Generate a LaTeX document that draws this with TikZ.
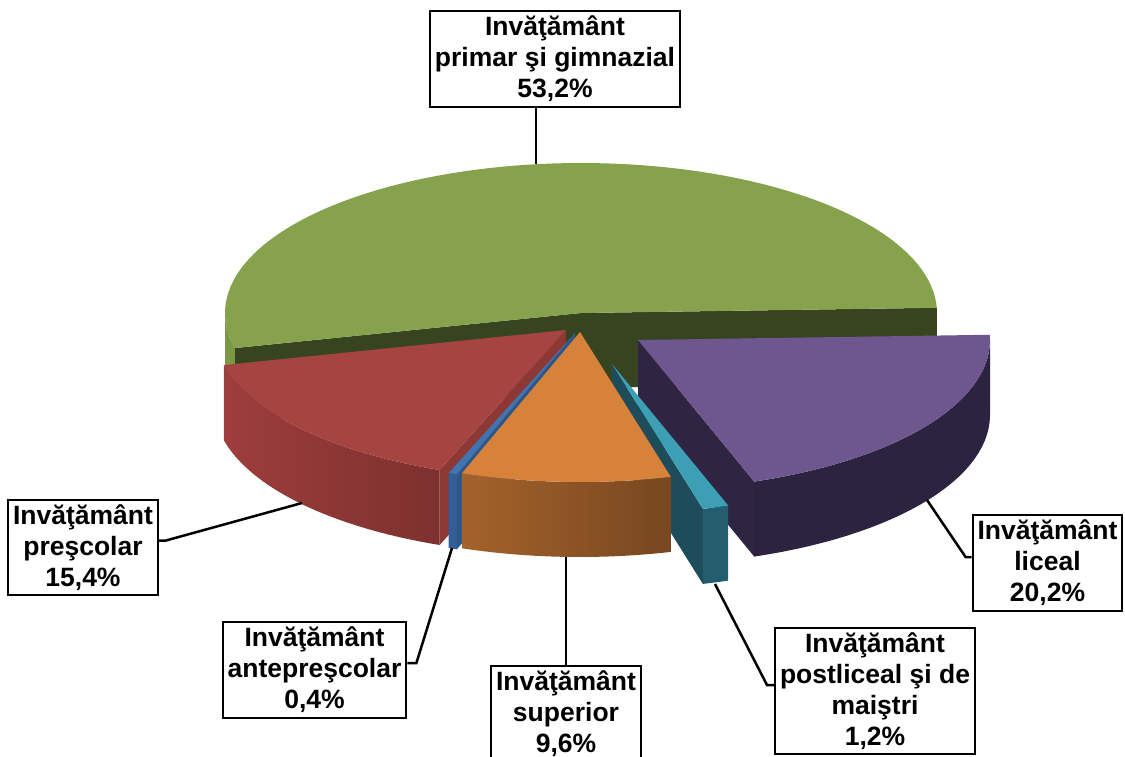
\documentclass[tikz,border=0pt]{standalone}
\usepackage{fontspec}
\setmainfont{Liberation Sans}

\definecolor{primtop}{HTML}{86A24D}
\definecolor{primface}{HTML}{36451F}
\definecolor{primwall}{HTML}{7C9847}
\definecolor{prestop}{HTML}{A54441}
\definecolor{presface}{HTML}{8E3836}
\definecolor{preswallL}{HTML}{9E3E3C}
\definecolor{preswallR}{HTML}{7C302F}
\definecolor{antetop}{HTML}{4274B0}
\definecolor{anteface}{HTML}{2D5788}
\definecolor{antewall}{HTML}{335F98}
\definecolor{suptop}{HTML}{D7823A}
\definecolor{supwallL}{HTML}{A4622B}
\definecolor{supwallR}{HTML}{774720}
\definecolor{posttop}{HTML}{3C9FB4}
\definecolor{postface}{HTML}{1E4C5B}
\definecolor{postwall}{HTML}{245D6D}
\definecolor{lictop}{HTML}{6E568E}
\definecolor{licface}{HTML}{2F2542}
\definecolor{licwall}{HTML}{2C2340}

\tikzset{
  label box/.style={draw, line width=2pt, fill=white, align=center,
    inner xsep=5pt, inner ysep=5pt, font=\fontsize{26.5}{31}\selectfont\bfseries},
  lead/.style={line width=2.5pt},
}

\begin{document}
\begin{tikzpicture}[x=1pt, y=-1pt]
    \def\rx{352} \def\ry{150} \def\h{75}
    \useasboundingbox (0,0) rectangle (1125,757);

    % Primar si gimnazial
    \begin{scope}[shift={(581,313)}]
        \def\rx{356}
        \fill[primface] (0,0) -- ({\rx*sin(-103.52)},{-\ry*cos(-103.52)}) -- ++(0,\h) -- (0,\h) -- cycle;
        \fill[primface] (0,0) -- ({\rx*sin(88)},{-\ry*cos(88)}) -- ++(0,\h) -- (0,\h) -- cycle;
        \fill[primwall] plot[domain=-103.52:-90, samples=10] ({\rx*sin(\x)},{-\ry*cos(\x)})
            -- plot[domain=-90:-103.52, samples=10] ({\rx*sin(\x)},{\h-\ry*cos(\x)}) -- cycle;
        \fill[primtop] (0,0) -- plot[domain=-103.52:88, samples=90] ({\rx*sin(\x)},{-\ry*cos(\x)}) -- cycle;
    \end{scope}

    % Liceal
    \begin{scope}[shift={(638,340)}]
        \fill[licface] (0,0) -- ({\rx*sin(160.72)},{-\ry*cos(160.72)}) -- ++(0,\h) -- (0,\h) -- cycle;
        \fill[licwall] plot[domain=90:160.72, samples=30] ({\rx*sin(\x)},{-\ry*cos(\x)})
            -- plot[domain=160.72:90, samples=30] ({\rx*sin(\x)},{\h-\ry*cos(\x)}) -- cycle;
        \fill[lictop] (0,0) -- plot[domain=88:160.72, samples=30] ({\rx*sin(\x)},{-\ry*cos(\x)}) -- cycle;
    \end{scope}

    % Prescolar
    \begin{scope}[shift={(566,330)}]
        \fill[presface] (0,0) -- ({\rx*sin(201.04)},{-\ry*cos(201.04)}) -- ++(0,\h) -- (0,\h) -- cycle;
        \shade[left color=preswallL, right color=preswallR] plot[domain=201.04:256.48, samples=30] ({\rx*sin(\x)},{-\ry*cos(\x)})
            -- plot[domain=256.48:201.04, samples=30] ({\rx*sin(\x)},{\h-\ry*cos(\x)}) -- cycle;
        \fill[prestop] (0,0) -- plot[domain=201.04:256.48, samples=30] ({\rx*sin(\x)},{-\ry*cos(\x)}) -- cycle;
    \end{scope}

    % Anteprescolar
    \begin{scope}[shift={(575,333)}]
        \fill[anteface] (0,0) -- ({\rx*sin(199.6)},{-\ry*cos(199.6)}) -- ++(0,\h) -- (0,\h) -- cycle;
        \fill[antewall] plot[domain=199.6:201.04, samples=3] ({\rx*sin(\x)},{-\ry*cos(\x)})
            -- plot[domain=201.04:199.6, samples=3] ({\rx*sin(\x)},{\h-\ry*cos(\x)}) -- cycle;
        \fill[antetop] (0,0) -- plot[domain=199.6:201.04, samples=3] ({\rx*sin(\x)},{-\ry*cos(\x)}) -- cycle;
    \end{scope}

    % Postliceal si de maistri
    \begin{scope}[shift={(612,364)}]
        \fill[postface] (0,0) -- ({\rx*sin(165.04)},{-\ry*cos(165.04)}) -- ++(0,\h) -- (0,\h) -- cycle;
        \fill[postwall] plot[domain=160.72:165.04, samples=4] ({\rx*sin(\x)},{-\ry*cos(\x)})
            -- plot[domain=165.04:160.72, samples=4] ({\rx*sin(\x)},{\h-\ry*cos(\x)}) -- cycle;
        \fill[posttop] (0,0) -- plot[domain=160.72:165.04, samples=4] ({\rx*sin(\x)},{-\ry*cos(\x)}) -- cycle;
    \end{scope}

    % Superior
    \begin{scope}[shift={(580,332)}]
        \shade[left color=supwallL, right color=supwallR] plot[domain=165.04:199.6, samples=20] ({\rx*sin(\x)},{-\ry*cos(\x)})
            -- plot[domain=199.6:165.04, samples=20] ({\rx*sin(\x)},{\h-\ry*cos(\x)}) -- cycle;
        \fill[suptop] (0,0) -- plot[domain=165.04:199.6, samples=20] ({\rx*sin(\x)},{-\ry*cos(\x)}) -- cycle;
    \end{scope}

    % Capete
    \coordinate (eprim) at (536,164);
    \coordinate (epres) at (302,503);
    \coordinate (eante) at (452,548);
    \coordinate (esup) at (566,557);
    \coordinate (epost) at (715,584);
    \coordinate (elic) at (927,500);

    % Etichete
    \node[label box] (lprim) at (555,59) {Invăţământ\\primar şi gimnazial\\53,2\%};
    \node[label box] (lpres) at (83,547.5) {Invăţământ\\preşcolar\\15,4\%};
    \node[label box] (lante) at (314.5,670) {Invăţământ\\antepreşcolar\\0,4\%};
    \node[label box] (lsup) at (566,714) {Invăţământ\\superior\\9,6\%};
    \node[label box] (lpost) at (875,691) {Invăţământ\\postliceal şi de\\maiştri\\1,2\%};
    \node[label box] (llic) at (1047.5,563) {Invăţământ\\liceal\\20,2\%};

    % Linii
    \draw[lead] (eprim |- lprim.south) -- (eprim);
    \draw[lead] ([yshift=7pt]lpres.east) -- ++(7,0) -- (epres);
    \draw[lead] ([yshift=7pt]lante.east) -- ++(9,0) -- (eante);
    \draw[lead] (lsup.north) -- (esup);
    \draw[lead] ([yshift=6pt]lpost.west) -- ++(-7,0) -- (epost);
    \draw[lead] ([yshift=6pt]llic.west) -- ++(-6,0) -- (elic);
\end{tikzpicture}
\end{document}
